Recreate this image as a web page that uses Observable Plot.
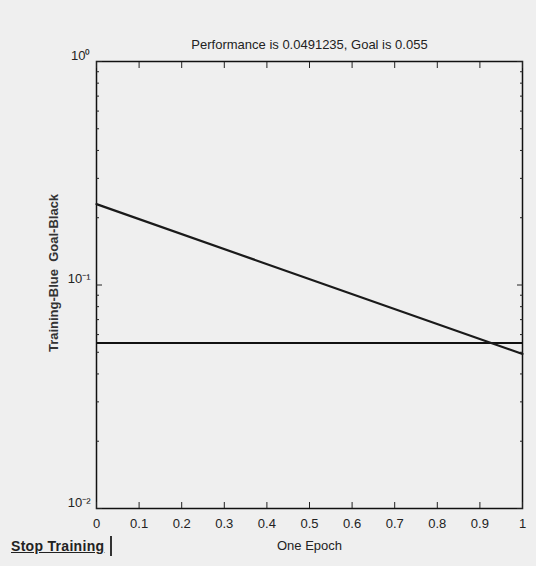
<!DOCTYPE html>
<html>
<head>
<meta charset="utf-8">
<script src="https://cdn.jsdelivr.net/npm/d3@7"></script>
<script src="https://cdn.jsdelivr.net/npm/@observablehq/plot@0.6"></script>
<style>
  html, body { margin: 0; padding: 0; background: #efefef; }
  #wrap { position: relative; width: 536px; height: 566px; overflow: hidden; }
  #stop { position: absolute; left: 9px; top: 536px; font: bold 14px "Liberation Sans Narrow", "Liberation Sans", Arial, sans-serif;
          color: #222; text-decoration: underline; padding: 2px 6px 2px 2px; border-right: 2px solid #333; letter-spacing: 0.3px; }
</style>
</head>
<body>
<div id="wrap"><div id="chart"></div><div id="stop">Stop Training</div></div>
<script>
const epochs = [0, 1];
const training = [0.23, 0.0491235];
const goal = 0.055;
const xTicks = [0, 0.1, 0.2, 0.3, 0.4, 0.5, 0.6, 0.7, 0.8, 0.9, 1];
const yMajor = [0.01, 0.1, 1];
const yMajorLabels = ["10\u207B\u00B2", "10\u207B\u00B9", "10\u2070"];
const yMinor = [0.02,0.03,0.04,0.05,0.06,0.07,0.08,0.09,0.2,0.3,0.4,0.5,0.6,0.7,0.8,0.9];
const title = "Performance is 0.0491235, Goal is 0.055";
const xLabel = "One Epoch";
const yLabel = "Training-Blue  Goal-Black";

const trainData = epochs.map((e, i) => ({epoch: e, perf: training[i]}));
const font = "'Liberation Sans Narrow', 'Liberation Sans', Arial, sans-serif";
const fmtY = d => yMajorLabels[yMajor.indexOf(d)];

const chart = Plot.plot({
  width: 536,
  height: 566,
  marginTop: 61,
  marginLeft: 96,
  marginRight: 14,
  marginBottom: 58,
  style: {background: "#efefef", fontFamily: font, fontSize: "12px", color: "#222"},
  x: {domain: [0, 1]},
  y: {type: "log", domain: [0.01, 1]},
  marks: [
    Plot.frame({stroke: "#111", strokeWidth: 1.5}),
    Plot.axisX({anchor: "bottom", ticks: xTicks, tickSize: -6, tickPadding: 16, tickFormat: d => String(d), label: null, fontSize: 13}),
    Plot.axisX({anchor: "top", ticks: xTicks, tickSize: -6, text: null, label: null}),
    Plot.axisY({anchor: "left", ticks: yMajor, tickSize: -6, text: null, label: null}),
    Plot.axisY({anchor: "left", ticks: yMajor, tickSize: 0, tickPadding: 6, tickFormat: fmtY, label: null, fontSize: 13, dy: -6}),
    Plot.axisY({anchor: "right", ticks: yMajor, tickSize: -6, text: null, label: null}),
    Plot.axisY({anchor: "left", ticks: yMinor, tickSize: -3, text: null, label: null}),
    Plot.axisY({anchor: "right", ticks: yMinor, tickSize: -3, text: null, label: null}),
    Plot.ruleY([goal], {stroke: "#111", strokeWidth: 2}),
    Plot.line(trainData, {x: "epoch", y: "perf", stroke: "#1a1a1a", strokeWidth: 2.2}),
    Plot.text([title], {frameAnchor: "top", dy: -22, fontSize: 13, fill: "#222"}),
    Plot.text([xLabel], {frameAnchor: "bottom", dy: 41, fontSize: 13, fill: "#222"}),
    Plot.text([yLabel], {frameAnchor: "left", textAnchor: "middle", dx: -43, dy: -12, rotate: -90, fontSize: 13, fontWeight: "bold", fill: "#333"})
  ]
});
document.getElementById("chart").appendChild(chart);
</script>
</body>
</html>
